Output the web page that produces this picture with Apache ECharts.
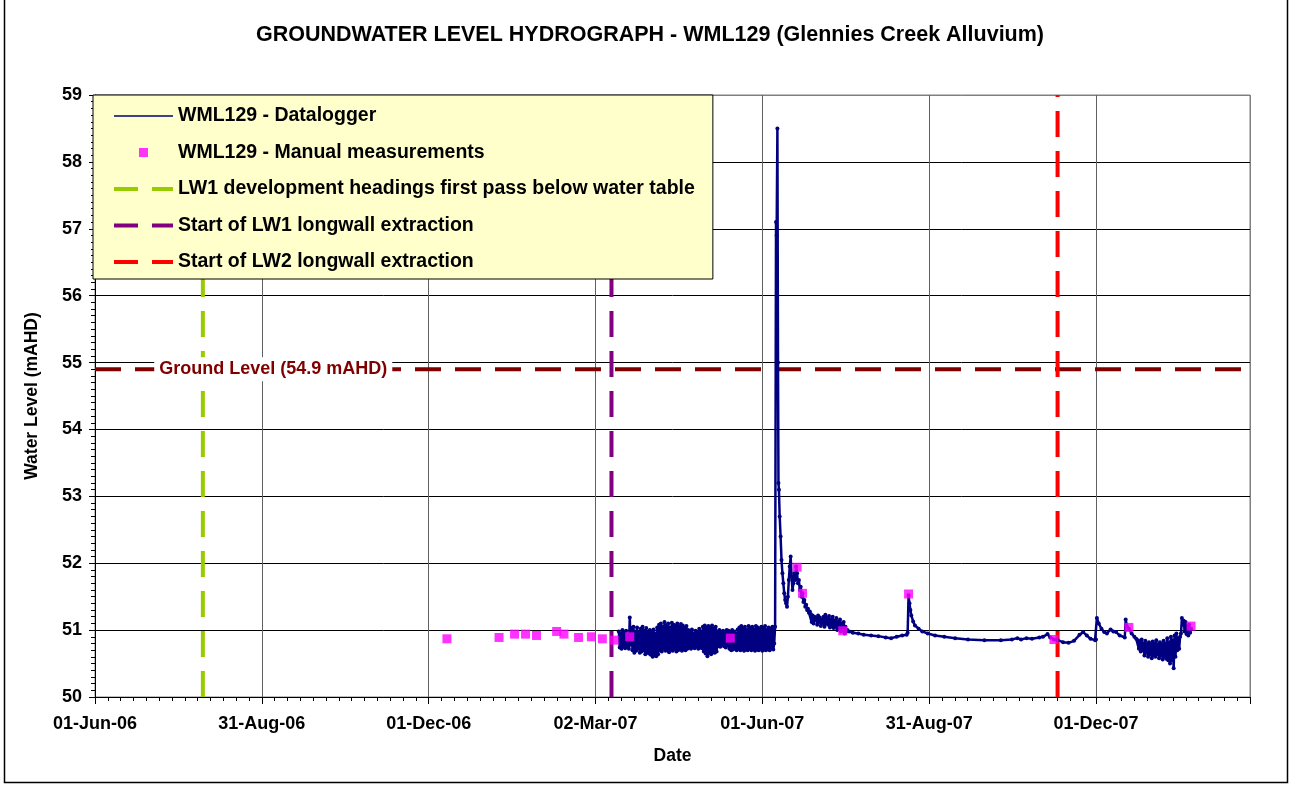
<!DOCTYPE html>
<html><head><meta charset="utf-8">
<script src="https://cdn.jsdelivr.net/npm/echarts@6/dist/echarts.min.js"></script>
<style>html,body{margin:0;padding:0;background:#fff}#chart{width:1292px;height:787px}</style>
</head><body><div id="chart"></div>
<script>
// ---------------- DATA ----------------
const chartTitle = 'GROUNDWATER LEVEL HYDROGRAPH - WML129 (Glennies Creek Alluvium)';
const axisBaseDate = '2006-06-01 12:00';   // x axis start (day 0)
const xTickIntervalDays = 91.25;
const xMaxDays = 631.75;
const yMin = 50, yMax = 59, yInterval = 1;

// Manual measurements
const manualDates = ['2006-12-11','2007-01-08 12:00','2007-01-17','2007-01-23','2007-01-29','2007-02-09','2007-02-13','2007-02-21','2007-02-28','2007-03-06','2007-03-12 12:00','2007-03-21','2007-05-15','2007-06-20 12:00','2007-06-23 12:00','2007-07-15 12:00','2007-08-20 12:00','2007-11-08','2007-12-19','2008-01-22'];
const manualLevels = [50.87,50.89,50.94,50.94,50.92,50.98,50.94,50.89,50.90,50.87,50.85,50.90,50.88,51.94,51.55,50.99,51.54,50.86,51.04,51.06];

// Datalogger - irregular readings
const loggerDates = [
 '2007-06-08 00:00','2007-06-08 12:00','2007-06-09 00:00','2007-06-09 08:00','2007-06-09 18:00','2007-06-10 02:00','2007-06-10 08:00','2007-06-10 14:00',
 '2007-06-11 00:00','2007-06-11 12:00','2007-06-12 00:00','2007-06-12 12:00','2007-06-13 00:00','2007-06-13 12:00','2007-06-14 00:00','2007-06-14 12:00',
 '2007-06-15 00:00','2007-06-15 12:00','2007-06-16 00:00','2007-06-16 12:00','2007-06-17 00:00','2007-06-17 12:00','2007-06-18 00:00','2007-06-18 12:00',
 '2007-06-19 00:00','2007-06-19 12:00','2007-06-20 00:00','2007-06-20 12:00','2007-06-21 00:00','2007-06-21 12:00','2007-06-22 00:00','2007-06-22 12:00',
 '2007-06-23 00:00','2007-06-23 12:00','2007-06-24 00:00','2007-06-24 12:00','2007-06-25 00:00','2007-06-25 12:00','2007-06-26 00:00','2007-06-26 12:00',
 '2007-06-27 00:00','2007-06-27 12:00',
 '2007-07-18','2007-07-19','2007-07-21','2007-07-24','2007-07-27','2007-07-31','2007-08-04','2007-08-08','2007-08-11','2007-08-14','2007-08-17',
 '2007-08-19 12:00','2007-08-20 00:00','2007-08-20 12:00','2007-08-21 00:00','2007-08-21 12:00','2007-08-22','2007-08-23','2007-08-24','2007-08-26','2007-08-28','2007-08-31',
 '2007-09-04','2007-09-09','2007-09-15','2007-09-22','2007-10-01','2007-10-10','2007-10-16','2007-10-19','2007-10-21','2007-10-24','2007-10-27','2007-10-31',
 '2007-11-02','2007-11-04 12:00','2007-11-06','2007-11-08','2007-11-10','2007-11-13','2007-11-16','2007-11-19','2007-11-22','2007-11-24','2007-11-26','2007-11-28','2007-11-30 12:00',
 '2007-12-01 00:00','2007-12-01 12:00','2007-12-02 12:00','2007-12-04','2007-12-05 12:00','2007-12-07','2007-12-09','2007-12-10 12:00','2007-12-12','2007-12-14','2007-12-16 18:00',
 '2007-12-17 06:00','2007-12-18','2007-12-19','2007-12-20 12:00','2007-12-22','2007-12-23',
 '2008-01-15 00:00','2008-01-15 12:00','2008-01-16 00:00','2008-01-16 12:00','2008-01-17 00:00','2008-01-17 12:00','2008-01-18 00:00','2008-01-18 12:00',
 '2008-01-19 00:00','2008-01-19 12:00','2008-01-20 00:00','2008-01-20 12:00','2008-01-21 00:00','2008-01-21 12:00','2008-01-22 00:00'
];
const loggerLevels = [
 50.80,51.05,57.10,56.90,58.50,55.00,53.20,53.10,
 52.70,52.40,52.05,51.85,51.70,51.55,51.45,51.40,
 51.35,51.50,51.75,51.95,52.10,51.80,51.60,51.70,
 51.85,51.75,51.95,51.85,51.70,51.75,51.60,51.65,
 51.50,51.55,51.42,51.45,51.35,51.38,51.30,51.32,
 51.26,51.28,
 51.00,50.98,50.96,50.95,50.93,50.92,50.91,50.89,50.88,50.90,50.92,
 50.93,50.96,51.52,51.40,51.30,51.22,51.13,51.07,51.02,50.98,50.95,
 50.92,50.90,50.88,50.86,50.85,50.85,50.86,50.88,50.86,50.88,50.87,50.89,
 50.90,50.94,50.89,50.86,50.85,50.82,50.81,50.84,50.93,50.97,50.92,50.87,50.85,
 50.86,51.18,51.10,51.02,50.97,50.95,51.01,50.98,50.97,50.92,50.89,
 51.16,51.05,51.02,50.95,50.90,50.87,
 50.88,50.72,50.90,50.95,51.18,51.08,51.14,50.98,
 51.12,50.94,51.06,50.92,51.08,50.96,51.02
];

// Datalogger - 12-hourly readings during the fluctuating periods
const loggerStepDays = 0.5;
const burstAStart = '2007-03-15 00:00';
const burstALevels = [
 50.98,50.74,50.95,50.72,51.00,50.76,50.96,50.73,50.99,50.75,50.93,50.72,51.19,50.78,
 51.03,50.70,51.05,50.66,50.98,50.69,51.04,50.72,50.97,50.66,51.02,50.68,51.05,50.70,50.99,50.64,51.03,50.67,50.96,50.65,51.00,50.63,
 50.98,50.60,51.01,50.62,50.95,50.61,51.04,50.64,
 51.08,50.70,51.10,50.68,51.05,50.72,51.12,50.69,51.07,50.70,51.10,50.67,51.04,50.71,51.11,50.69,51.08,50.72,51.06,50.68,51.10,50.70,51.05,50.73,51.09,50.69,51.07,50.71,51.03,50.70,51.06,50.72,
 51.00,50.74,50.97,50.72,51.01,50.75,50.95,50.73,50.99,50.76,50.96,50.72,51.02,50.74,50.98,50.73,
 51.05,50.68,51.07,50.65,51.04,50.61,51.06,50.66,51.03,50.64,51.07,50.67,51.02,50.66,51.05,50.68,
 50.98,50.76,51.00,50.75,50.96,50.78,50.99,50.76,50.97,50.74,51.00,50.77,
 50.99,50.72,50.96,50.70,51.00,50.71,50.98,50.73,50.95,50.70,51.01,50.72,
 51.04,50.70,51.06,50.72,51.02,50.69,51.05,50.71,51.00,50.70,51.06,50.73,51.03,50.70,51.05,50.72,51.01,50.69,51.06,50.71,51.04,50.70,51.02,50.72,51.05,50.69,51.03,50.71,51.06,50.70,51.00,50.72,51.04,50.70,51.02,50.73,51.05,50.71
];
const burstBStart = '2007-06-28 00:00';
const burstBLevels = [
 51.24,51.12,51.22,51.10,51.20,51.15,51.18,51.08,51.22,51.12,51.19,51.06,51.15,51.10,51.20,51.05,51.23,51.10,51.18,51.08,
 51.21,51.04,51.16,51.07,51.20,51.03,51.14,51.05,51.18,51.00,51.12,51.03,51.16,50.98,51.10,51.00,51.12,50.95,51.05,50.98
];
const burstCStart = '2007-12-24 00:00';
const burstCLevels = [
 50.85,50.72,50.83,50.68,50.86,50.70,50.80,50.62,50.84,50.66,50.79,50.60,50.82,50.64,50.78,50.58,
 50.83,50.62,50.80,50.60,50.85,50.64,50.78,50.58,50.82,50.62,50.79,50.56,50.84,50.60,50.80,50.57,
 50.88,50.55,50.82,50.50,50.90,50.55,50.85,50.43,50.92,50.60,50.95,50.70
];

// Events and reference level
const eventNames = ['LW1 development headings first pass below water table','Start of LW1 longwall extraction','Start of LW2 longwall extraction'];
const eventDates = ['2006-07-30 12:00','2007-03-11','2007-11-10'];
const eventColors = ['#99CC00','#800080','#FF0000'];
const groundLevel = 54.9;
const groundLabel = 'Ground Level (54.9 mAHD)';
const groundLabelDate = '2006-09-07';

// ---------------- HELPERS ----------------
function toMs(s){
  const parts = s.split(' ');
  const [Y,M,D] = parts[0].split('-').map(Number);
  const [h,m] = (parts[1]||'00:00').split(':').map(Number);
  return Date.UTC(Y, M-1, D, h, m);
}
const BASE_MS = toMs(axisBaseDate);
const DAY = 86400000;
function toDay(s){ return (toMs(s) - BASE_MS) / DAY; }
const MON = ['Jan','Feb','Mar','Apr','May','Jun','Jul','Aug','Sep','Oct','Nov','Dec'];
function fmtDay(v){
  const d = new Date(BASE_MS + v*DAY);
  const dd = String(d.getUTCDate()).padStart(2,'0');
  const yy = String(d.getUTCFullYear()%100).padStart(2,'0');
  return dd + '-' + MON[d.getUTCMonth()] + '-' + yy;
}

let loggerData = loggerDates.map((s,i)=>[toDay(s), loggerLevels[i]]);
[[burstAStart,burstALevels],[burstBStart,burstBLevels],[burstCStart,burstCLevels]].forEach(([st,vals])=>{
  const d0 = toDay(st);
  vals.forEach((v,i)=>loggerData.push([d0 + i*loggerStepDays, v]));
});
loggerData.sort((a,b)=>a[0]-b[0]);
const manualData = manualDates.map((s,i)=>[toDay(s), manualLevels[i]]);

const FONT = "'Liberation Sans', Arial, sans-serif";
const DASH = [26,14];

const series = [];
series.push({
  name:'Ground Level', type:'line', data:[[0,groundLevel],[xMaxDays,groundLevel]],
  symbol:'none', lineStyle:{color:'#800000', width:4, type:DASH}, z:3, silent:true
});
eventNames.forEach((n,i)=>{
  const d = toDay(eventDates[i]);
  series.push({
    name:n, type:'line', data:[[d,yMin],[d,yMax]], symbol:'none',
    lineStyle:{color:eventColors[i], width:4, type:DASH}, itemStyle:{color:eventColors[i]}, z:3, silent:true
  });
});
series.push({
  name:'WML129 - Datalogger', type:'line', data:loggerData,
  symbol:'circle', symbolSize:4, showSymbol:true,
  lineStyle:{color:'#000080', width:2.5}, itemStyle:{color:'#000080'}, z:4, silent:true
});
series.push({
  name:'WML129 - Manual measurements', type:'scatter', data:manualData,
  symbol:'rect', symbolSize:9, itemStyle:{color:'#FF00FF'}, z:5, silent:true
});
series.push({
  name:'groundLabel', type:'scatter', data:[[toDay(groundLabelDate), groundLevel]],
  symbol:'rect', symbolSize:1, itemStyle:{color:'#ffffff'}, z:6, silent:true,
  label:{show:true, position:'inside', formatter:groundLabel, color:'#800000', fontFamily:FONT,
    fontWeight:'bold', fontSize:18, backgroundColor:'#ffffff', padding:[3,5],
    textBorderWidth:0, textBorderColor:'transparent', opacity:1}
});

const transparent = 'rgba(0,0,0,0)';
const dashedLegend = (i) => ({name:eventNames[i], itemStyle:{color:transparent},
  lineStyle:{color:eventColors[i], width:4, type:[24,14]}});
const option = {
  animation:false,
  backgroundColor:'#ffffff',
  title:{ text:chartTitle, left:645, textAlign:'center', top:19,
    textStyle:{fontFamily:FONT, fontWeight:'bold', fontSize:21.5, color:'#000'} },
  grid:{ left:95, right:42, top:95, bottom:90, show:true, borderColor:'#808080', borderWidth:1, backgroundColor:'#fff' },
  legend:{
    orient:'vertical', left:93, top:95, padding:[11,18,7,19], itemWidth:59, itemHeight:9, itemGap:16.5,
    backgroundColor:'#FFFFCC', borderColor:'#000', borderWidth:1, selectedMode:false, z:10,
    textStyle:{fontFamily:FONT, fontWeight:'bold', fontSize:19.5, color:'#000', lineHeight:20},
    data:[
      {name:'WML129 - Datalogger', lineStyle:{width:1.5}, itemStyle:{color:transparent}},
      {name:'WML129 - Manual measurements', icon:'path://M0,0M59,9M25,0h9v9h-9z'},
      dashedLegend(0), dashedLegend(1), dashedLegend(2)
    ]
  },
  xAxis:{
    type:'value', min:0, max:xMaxDays, interval:xTickIntervalDays,
    name:'Date', nameLocation:'middle', nameGap:50,
    nameTextStyle:{fontFamily:FONT, fontWeight:'bold', fontSize:17.5, color:'#000'},
    axisLine:{show:true, onZero:false, lineStyle:{color:'#000', width:1}},
    axisTick:{show:true, length:7, lineStyle:{color:'#000'}},
    minorTick:{show:true, splitNumber:13, length:4, lineStyle:{color:'#000'}},
    axisLabel:{formatter:fmtDay, showMaxLabel:false, margin:18, fontFamily:FONT, fontWeight:'bold', fontSize:18, color:'#000'},
    splitLine:{show:true, lineStyle:{color:['#606060','#606060','#606060','#606060','#606060','#606060','#606060','#808080'], width:1}}
  },
  yAxis:{
    type:'value', min:yMin, max:yMax, interval:yInterval,
    name:'Water Level (mAHD)', nameLocation:'middle', nameGap:54, nameRotate:90,
    nameTextStyle:{fontFamily:FONT, fontWeight:'bold', fontSize:17.5, color:'#000'},
    axisLine:{show:true, lineStyle:{color:'#000', width:1}},
    axisTick:{show:true, length:6, lineStyle:{color:'#000'}},
    minorTick:{show:true, splitNumber:10, length:4, lineStyle:{color:'#000'}},
    axisLabel:{margin:13, fontFamily:FONT, fontWeight:'bold', fontSize:18, color:'#000'},
    splitLine:{show:true, lineStyle:{color:['#000','#000','#000','#000','#000','#000','#000','#000','#000','#808080'], width:1}}
  },
  graphic:[{type:'rect', shape:{x:4.5, y:-2, width:1283, height:784.5}, style:{fill:'none', stroke:'#000', lineWidth:1.5}, silent:true, z:100}],
  series:series
};
const chart = echarts.init(document.getElementById('chart'), null, {renderer:'canvas'});
chart.setOption(option);
</script>
</body></html>
